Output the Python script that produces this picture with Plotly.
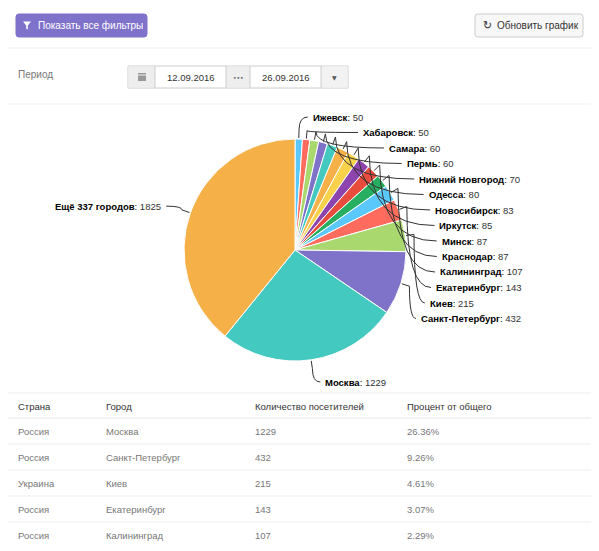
import math
import plotly.graph_objects as go

W, H = 599, 551
OFF = 8  # browser body margin around the figure

# pie data (Highcharts order: clockwise from 12 o'clock)
cities = ["Ижевск", "Хабаровск", "Самара", "Пермь", "Нижний Новгород", "Одесса",
          "Новосибирск", "Иркутск", "Минск", "Краснодар", "Калининград",
          "Екатеринбург", "Киев", "Санкт-Петербург", "Москва", "Ещё 337 городов"]
visitors = [50, 50, 60, 60, 70, 80, 83, 85, 87, 87, 107, 143, 215, 432, 1229, 1825]
palette = ["#5AC8FA", "#FF6B5C", "#A8D86E", "#7F73C9", "#43C9BF",
           "#F5B047", "#F8D24B", "#8E44AD", "#E74C3C", "#27AE60"]

# table under the chart
table_headers = ["Страна", "Город", "Количество посетителей", "Процент от общего"]
table_countries = ["Россия", "Россия", "Украина", "Россия", "Россия"]
table_cities = ["Москва", "Санкт-Петербург", "Киев", "Екатеринбург", "Калининград"]
table_visitors = [1229, 432, 215, 143, 107]
table_percent = ["26.36%", "9.26%", "4.61%", "3.07%", "2.29%"]

date_from = "12.09.2016"
date_to = "26.09.2016"

FONT = "Liberation Sans, Arial, sans-serif"
FW, FH = W - 2 * OFF, H - 2 * OFF


def X(px):
    return (px - OFF) / FW


def Y(py):
    return 1 - (py - OFF) / FH


def path(points, close=False):
    s = "M " + " L ".join(f"{X(a):.5f},{Y(b):.5f}" for a, b in points)
    return s + (" Z" if close else "")


def rounded(x0, y0, x1, y1, rad=3):
    k = rad
    return (f"M {X(x0+k):.5f},{Y(y0):.5f} L {X(x1-k):.5f},{Y(y0):.5f} "
            f"Q {X(x1):.5f},{Y(y0):.5f} {X(x1):.5f},{Y(y0+k):.5f} "
            f"L {X(x1):.5f},{Y(y1-k):.5f} Q {X(x1):.5f},{Y(y1):.5f} {X(x1-k):.5f},{Y(y1):.5f} "
            f"L {X(x0+k):.5f},{Y(y1):.5f} Q {X(x0):.5f},{Y(y1):.5f} {X(x0):.5f},{Y(y1-k):.5f} "
            f"L {X(x0):.5f},{Y(y0+k):.5f} Q {X(x0):.5f},{Y(y0):.5f} {X(x0+k):.5f},{Y(y0):.5f} Z")


shapes = []
ann = []


def text(x, y, s, size=12, color="#333", anchor="left", family=FONT):
    ann.append(dict(x=X(x), y=Y(y), xref="paper", yref="paper", text=s, showarrow=False,
                    xanchor=anchor, yanchor="middle",
                    font=dict(family=family, size=size, color=color)))


def line(x0, y0, x1, y1, color="#eceef2", width=1):
    shapes.append(dict(type="line", xref="paper", yref="paper", x0=X(x0), y0=Y(y0),
                       x1=X(x1), y1=Y(y1), line=dict(color=color, width=width)))


def box(x0, y0, x1, y1, fill, border=None, rad=0):
    if rad:
        shapes.append(dict(type="path", xref="paper", yref="paper", path=rounded(x0, y0, x1, y1, rad),
                           fillcolor=fill, line=dict(color=border or fill, width=1)))
    else:
        shapes.append(dict(type="rect", xref="paper", yref="paper", x0=X(x0), y0=Y(y0),
                           x1=X(x1), y1=Y(y1), fillcolor=fill,
                           line=dict(color=border or fill, width=1 if border else 0)))


# ---- top buttons
box(16, 14, 147, 37, "#7F72CB", rad=3)
shapes.append(dict(type="path", xref="paper", yref="paper",
                   path=path([(23, 21.5), (31, 21.5), (27.8, 25.5), (27.8, 29.5), (26.2, 28.7), (26.2, 25.5)], close=True),
                   fillcolor="white", line=dict(width=0)))
text(36, 25.5, "Показать все фильтры", size=10, color="white")

box(475, 14, 583, 37, "#f7f7f7", border="#cccccc", rad=3)
text(487, 25.5, "↻", size=11, color="#333", anchor="center", family="DejaVu Sans")
text(495, 25.5, "Обновить график", size=10, color="#333")

line(OFF, 48, 591, 48)

# ---- period selector
text(16, 75, "Период", size=10, color="#777")
box(128, 66, 348, 88, "white", border="#cccccc")
box(128.5, 66.5, 155, 87.5, "#eeeeee")
box(226, 66.5, 250, 87.5, "#eeeeee")
box(321, 66.5, 347.5, 87.5, "#f2f2f2")
for xs in (155, 226, 250, 321):
    line(xs, 66, xs, 88, color="#cccccc")
box(138, 73, 146, 81, "#999999")
line(138, 75, 146, 75, color="#eeeeee", width=1)
text(190.5, 77, date_from, size=9.5, color="#333", anchor="center")
text(238, 77, "•••", size=6, color="#555", anchor="center", family="DejaVu Sans")
text(285.5, 77, date_to, size=9.5, color="#333", anchor="center")
text(334.5, 77, "▼", size=6, color="#555", anchor="center", family="DejaVu Sans")

line(OFF, 104, 591, 104, color="#f0f1f4")

# ---- pie
cx, cy, r = 295, 250, 111
colors = [palette[i % len(palette)] for i in range(len(visitors))]

fig = go.Figure()
fig.add_trace(go.Pie(
    values=visitors, labels=cities, sort=False, direction="clockwise", rotation=0,
    marker=dict(colors=colors, line=dict(color="white", width=1)),
    textposition="none", textinfo="none", hoverinfo="label+value", showlegend=False,
    domain=dict(x=[X(cx - r), X(cx + r)], y=[Y(cy + r), Y(cy - r)]),
))

# data labels with connectors, laid out from the slice angles
total = sum(visitors)
Rx, Ry = 145, 132
stack_top, stack_step = cy - r - 22, 15.5
acc = 0
k = 0
for name, v in zip(cities, visitors):
    mid = (acc + v / 2) / total * 2 * math.pi
    acc += v
    sx, sy = math.sin(mid), -math.cos(mid)
    ex, ey = cx + (r + 1) * sx, cy + (r + 1) * sy
    bx, by = cx + (r + 9) * sx, cy + (r + 9) * sy
    right = sx >= 0
    if right and sy > 0.9:
        ly = cy + r + 21
    elif right:
        ly = stack_top + k * stack_step
        k += 1
    else:
        ly = cy + (r + 20) * sy
    phi = math.asin(max(-1, min(1, (ly - cy) / Ry)))
    if right:
        lx = max(cx + Rx * math.cos(phi), ex + 12)
        tx = lx - 3
    else:
        lx = cx - Rx * math.cos(phi) + 5
        tx = lx + 3
    shapes.append(dict(type="path", xref="paper", yref="paper",
                       path=(f"M {X(ex):.5f},{Y(ey):.5f} L {X(bx):.5f},{Y(by):.5f} "
                             f"Q {X(bx):.5f},{Y(ly):.5f} {X(tx):.5f},{Y(ly):.5f}"),
                       line=dict(color="#333", width=1)))
    text(lx, ly, f"<b>{name}</b>: <span style='color:#333'>{v}</span>", size=9.5,
         color="#000", anchor="left" if right else "right")

# ---- table
col_x = [16, 104, 253, 405]
line(OFF, 393, 591, 393, color="#eceef2")
for cx_, h in zip(col_x, table_headers):
    text(cx_, 406, h, size=9.5, color="#333")
row_y0, row_h = 418, 26
line(OFF, row_y0, 591, row_y0, color="#e6e8ec")
for i in range(len(table_cities)):
    yc = row_y0 + row_h * i + row_h / 2
    cells = [table_countries[i], table_cities[i], str(table_visitors[i]), table_percent[i]]
    for cx_, c in zip(col_x, cells):
        text(cx_, yc, c, size=9.5, color="#777")
    line(OFF, row_y0 + row_h * (i + 1), 591, row_y0 + row_h * (i + 1), color="#eceef2")

fig.update_layout(
    width=FW, height=FH, margin=dict(l=0, r=0, t=0, b=0),
    paper_bgcolor="white", plot_bgcolor="white",
    shapes=shapes, annotations=ann,
    font=dict(family=FONT),
)

fig.write_html("out.html")
